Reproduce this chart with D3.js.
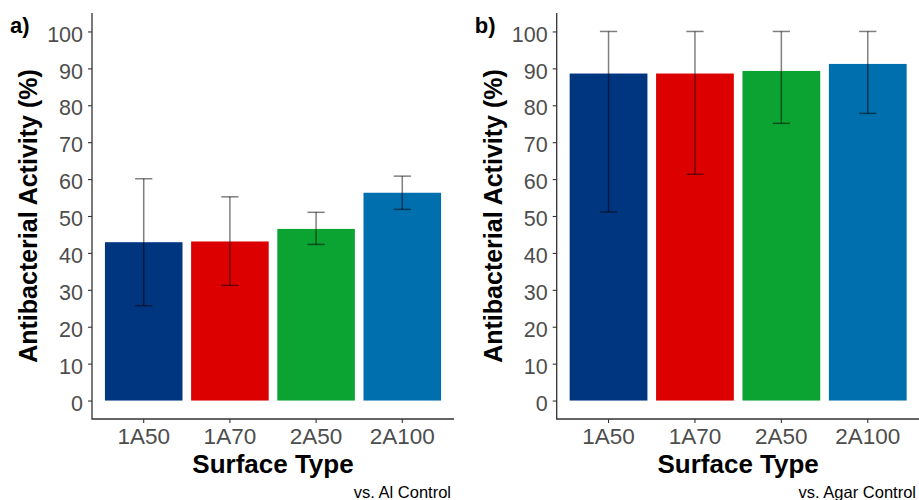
<!DOCTYPE html>
<html>
<head>
<meta charset="utf-8">
<script src="https://cdn.jsdelivr.net/npm/d3@7"></script>
<style>
  body { margin: 0; background: #fff; }
  svg { font-family: Arial, "Liberation Sans", sans-serif; }
</style>
</head>
<body>
<svg id="chart" width="919" height="500"></svg>
<script>
// data
const surfaces = ['1A50', '1A70', '2A50', '2A100'];
const barColors = ['#00357F', '#DD0000', '#0BA332', '#006FAD'];
const yTicks = [0, 10, 20, 30, 40, 50, 60, 70, 80, 90, 100];

// panel a: vs. Al control
const alMean = [42.9, 43.1, 46.5, 56.3];
const alLow = [25.7, 31.2, 42.3, 51.8];
const alHigh = [60.1, 55.2, 51.0, 60.8];

// panel b: vs. Agar control
const agarMean = [88.6, 88.6, 89.3, 91.2];
const agarLow = [51.1, 61.3, 75.1, 77.8];
const agarHigh = [100, 100, 100, 100];

const svg = d3.select('#chart');

function drawPanel(opts) {
  const left = opts.left, right = opts.right, top = 13, bottom = 419;

  const rows = surfaces.map((s, i) => ({
    surface: s,
    mean: opts.mean[i],
    low: opts.low[i],
    high: opts.high[i],
    color: barColors[i]
  }));

  // ggplot style discrete scale: 0.6 units expansion each side
  const step = (right - left) / (surfaces.length + 0.2);
  const xScale = d3.scaleBand()
    .domain(surfaces)
    .range([left, right])
    .paddingInner(0.1)
    .paddingOuter(0.15)
    .align(0.5);

  const yScale = d3.scaleLinear().domain([-5, 105]).range([bottom, top]);

  const g = svg.append('g');

  // bars
  g.selectAll('rect.bar')
    .data(rows)
    .enter()
    .append('rect')
    .attr('class', 'bar')
    .attr('x', d => xScale(d.surface))
    .attr('y', d => yScale(d.mean))
    .attr('width', xScale.bandwidth())
    .attr('height', d => yScale(0) - yScale(d.mean))
    .attr('fill', d => d.color);

  // error bars
  const cx = d => xScale(d.surface) + xScale.bandwidth() / 2;
  const hw = step * 0.1;
  const err = g.selectAll('g.err')
    .data(rows)
    .enter()
    .append('g')
    .attr('class', 'err')
    .attr('stroke', '#000')
    .attr('stroke-opacity', 0.5)
    .attr('stroke-width', 1.5);
  err.append('line')
    .attr('x1', cx).attr('x2', cx)
    .attr('y1', d => yScale(d.low)).attr('y2', d => yScale(d.high));
  err.append('line')
    .attr('x1', d => cx(d) - hw).attr('x2', d => cx(d) + hw)
    .attr('y1', d => yScale(d.high)).attr('y2', d => yScale(d.high));
  err.append('line')
    .attr('x1', d => cx(d) - hw).attr('x2', d => cx(d) + hw)
    .attr('y1', d => yScale(d.low)).attr('y2', d => yScale(d.low));

  // axes
  const yAxis = g.append('g')
    .attr('transform', `translate(${left},0)`)
    .call(d3.axisLeft(yScale).tickValues(yTicks).tickSize(4).tickPadding(5));
  const xAxis = g.append('g')
    .attr('transform', `translate(0,${bottom})`)
    .call(d3.axisBottom(xScale).tickSize(4));

  [yAxis, xAxis].forEach(ax => {
    ax.select('.domain').remove();
    ax.selectAll('.tick line').attr('stroke', '#333').attr('stroke-width', 1.1);
    ax.selectAll('.tick text').attr('fill', '#4D4D4D');
  });
  xAxis.selectAll('.tick text')
    .style('font-size', '22.5px')
    .attr('y', 25)
    .attr('dy', 0);
  yAxis.selectAll('.tick text')
    .style('font-size', '21.5px')
    .attr('dy', '0.45em');

  // axis lines
  g.append('path')
    .attr('d', `M${left},${top}V${bottom}H${right}`)
    .attr('fill', 'none')
    .attr('stroke', '#333')
    .attr('stroke-width', 1.3);

  // titles
  g.append('text')
    .attr('transform', `translate(${left - 55},${(top + bottom) / 2}) rotate(-90)`)
    .attr('text-anchor', 'middle')
    .attr('font-weight', 'bold')
    .style('font-size', '25px')
    .text('Antibacterial Activity (%)');

  g.append('text')
    .attr('x', (left + right) / 2)
    .attr('y', 473)
    .attr('text-anchor', 'middle')
    .attr('font-weight', 'bold')
    .style('font-size', '26px')
    .text('Surface Type');

  g.append('text')
    .attr('x', opts.captionX)
    .attr('y', 498)
    .attr('text-anchor', 'end')
    .style('font-size', '16.5px')
    .text(opts.caption);

  g.append('text')
    .attr('x', left - 82)
    .attr('y', 33)
    .attr('font-weight', 'bold')
    .style('font-size', '22px')
    .text(opts.tag);
}

drawPanel({
  left: 92, right: 454, mean: alMean, low: alLow, high: alHigh,
  tag: 'a)', caption: 'vs. Al Control', captionX: 451
});

drawPanel({
  left: 556.7, right: 919.6, mean: agarMean, low: agarLow, high: agarHigh,
  tag: 'b)', caption: 'vs. Agar Control', captionX: 916
});
</script>
</body>
</html>
